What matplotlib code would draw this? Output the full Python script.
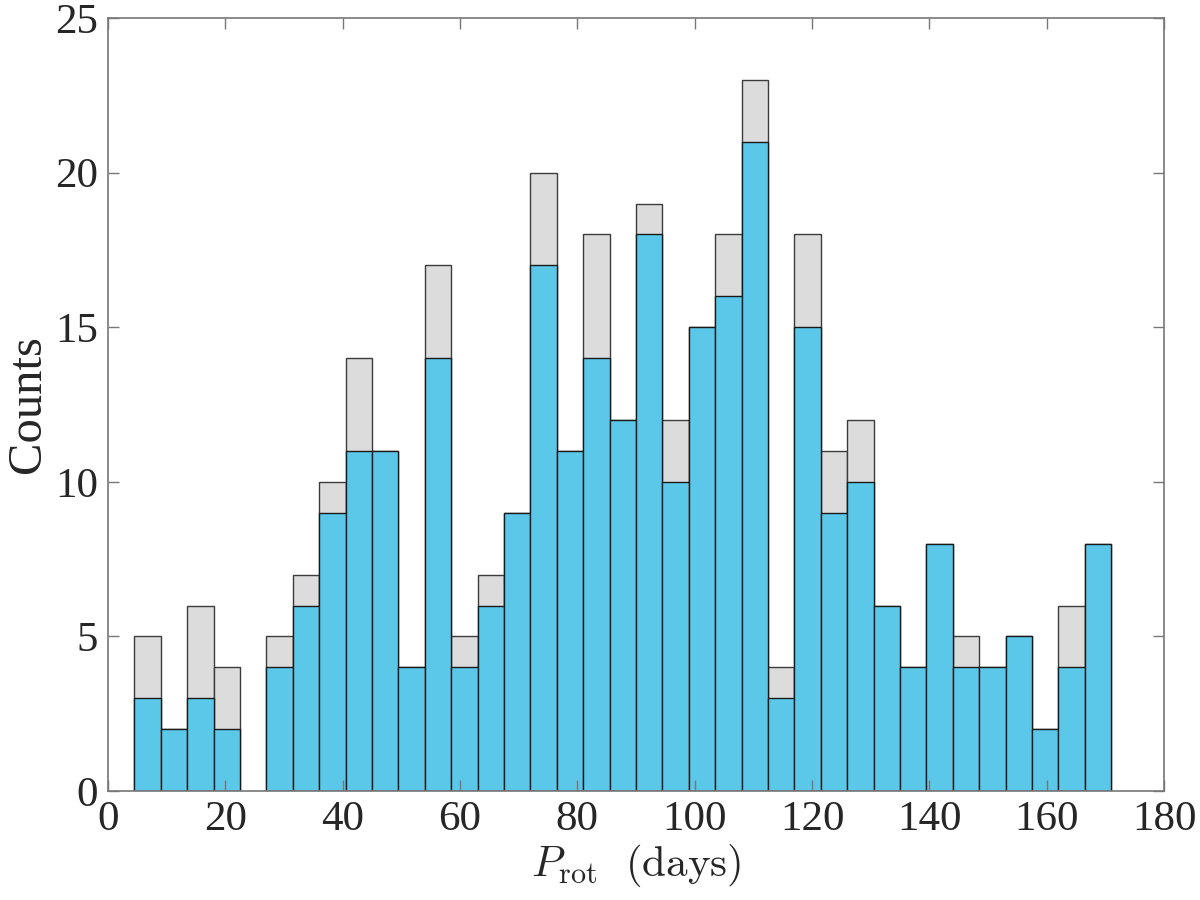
import numpy as np
import matplotlib
matplotlib.use("Agg")
import matplotlib.pyplot as plt

# bin layout of the histogram (days)
bin_start = 4.5
bin_width = 4.5

# counts per bin: full sample (grey) and subset (blue)
total_counts = [5, 2, 6, 4, 0, 5, 7, 10, 14, 11, 4, 17, 5, 7, 9, 20, 11, 18, 12,
                19, 12, 15, 18, 23, 4, 18, 11, 12, 6, 4, 8, 5, 4, 5, 2, 6, 8]
blue_counts = [3, 2, 3, 2, 0, 4, 6, 9, 11, 11, 4, 14, 4, 6, 9, 17, 11, 14, 12,
               18, 10, 15, 16, 21, 3, 15, 9, 10, 6, 4, 8, 4, 4, 5, 2, 4, 8]

plt.rcParams['font.family'] = ['Liberation Serif', 'DejaVu Serif']
plt.rcParams['mathtext.fontset'] = 'cm'

edges = bin_start + bin_width * np.arange(len(total_counts))

fig = plt.figure(figsize=(12, 9), dpi=100)
ax = fig.add_axes([0.09, 0.121, 0.88, 0.859])

tot = np.array(total_counts)
blu = np.array(blue_counts)
m = tot > 0
ax.bar(edges[m], tot[m], width=bin_width, align='edge', color='#dcdcdc',
       edgecolor='#3c3c3c', linewidth=1.0)
m = blu > 0
ax.bar(edges[m], blu[m], width=bin_width, align='edge', color='#5bc7e9',
       edgecolor='#1a1a1a', linewidth=1.0)

ax.set_xlim(0, 180)
ax.set_ylim(0, 25)
ax.set_xticks(np.arange(0, 181, 20))
ax.set_yticks(np.arange(0, 26, 5))

ax.tick_params(direction='in', length=8, width=1, top=True, right=True,
               labelsize=31, colors='#777777', labelcolor='#262626', pad=7)
for s in ax.spines.values():
    s.set_color('#777777')
    s.set_linewidth(1.2)

ax.set_xlabel(r'$P_{\rm rot}\ \ (\rm days)$', fontsize=31, color='#262626', labelpad=2)
ax.set_ylabel('Counts', fontsize=35, color='#262626', labelpad=4)

fig.savefig('out.png', dpi=100)
